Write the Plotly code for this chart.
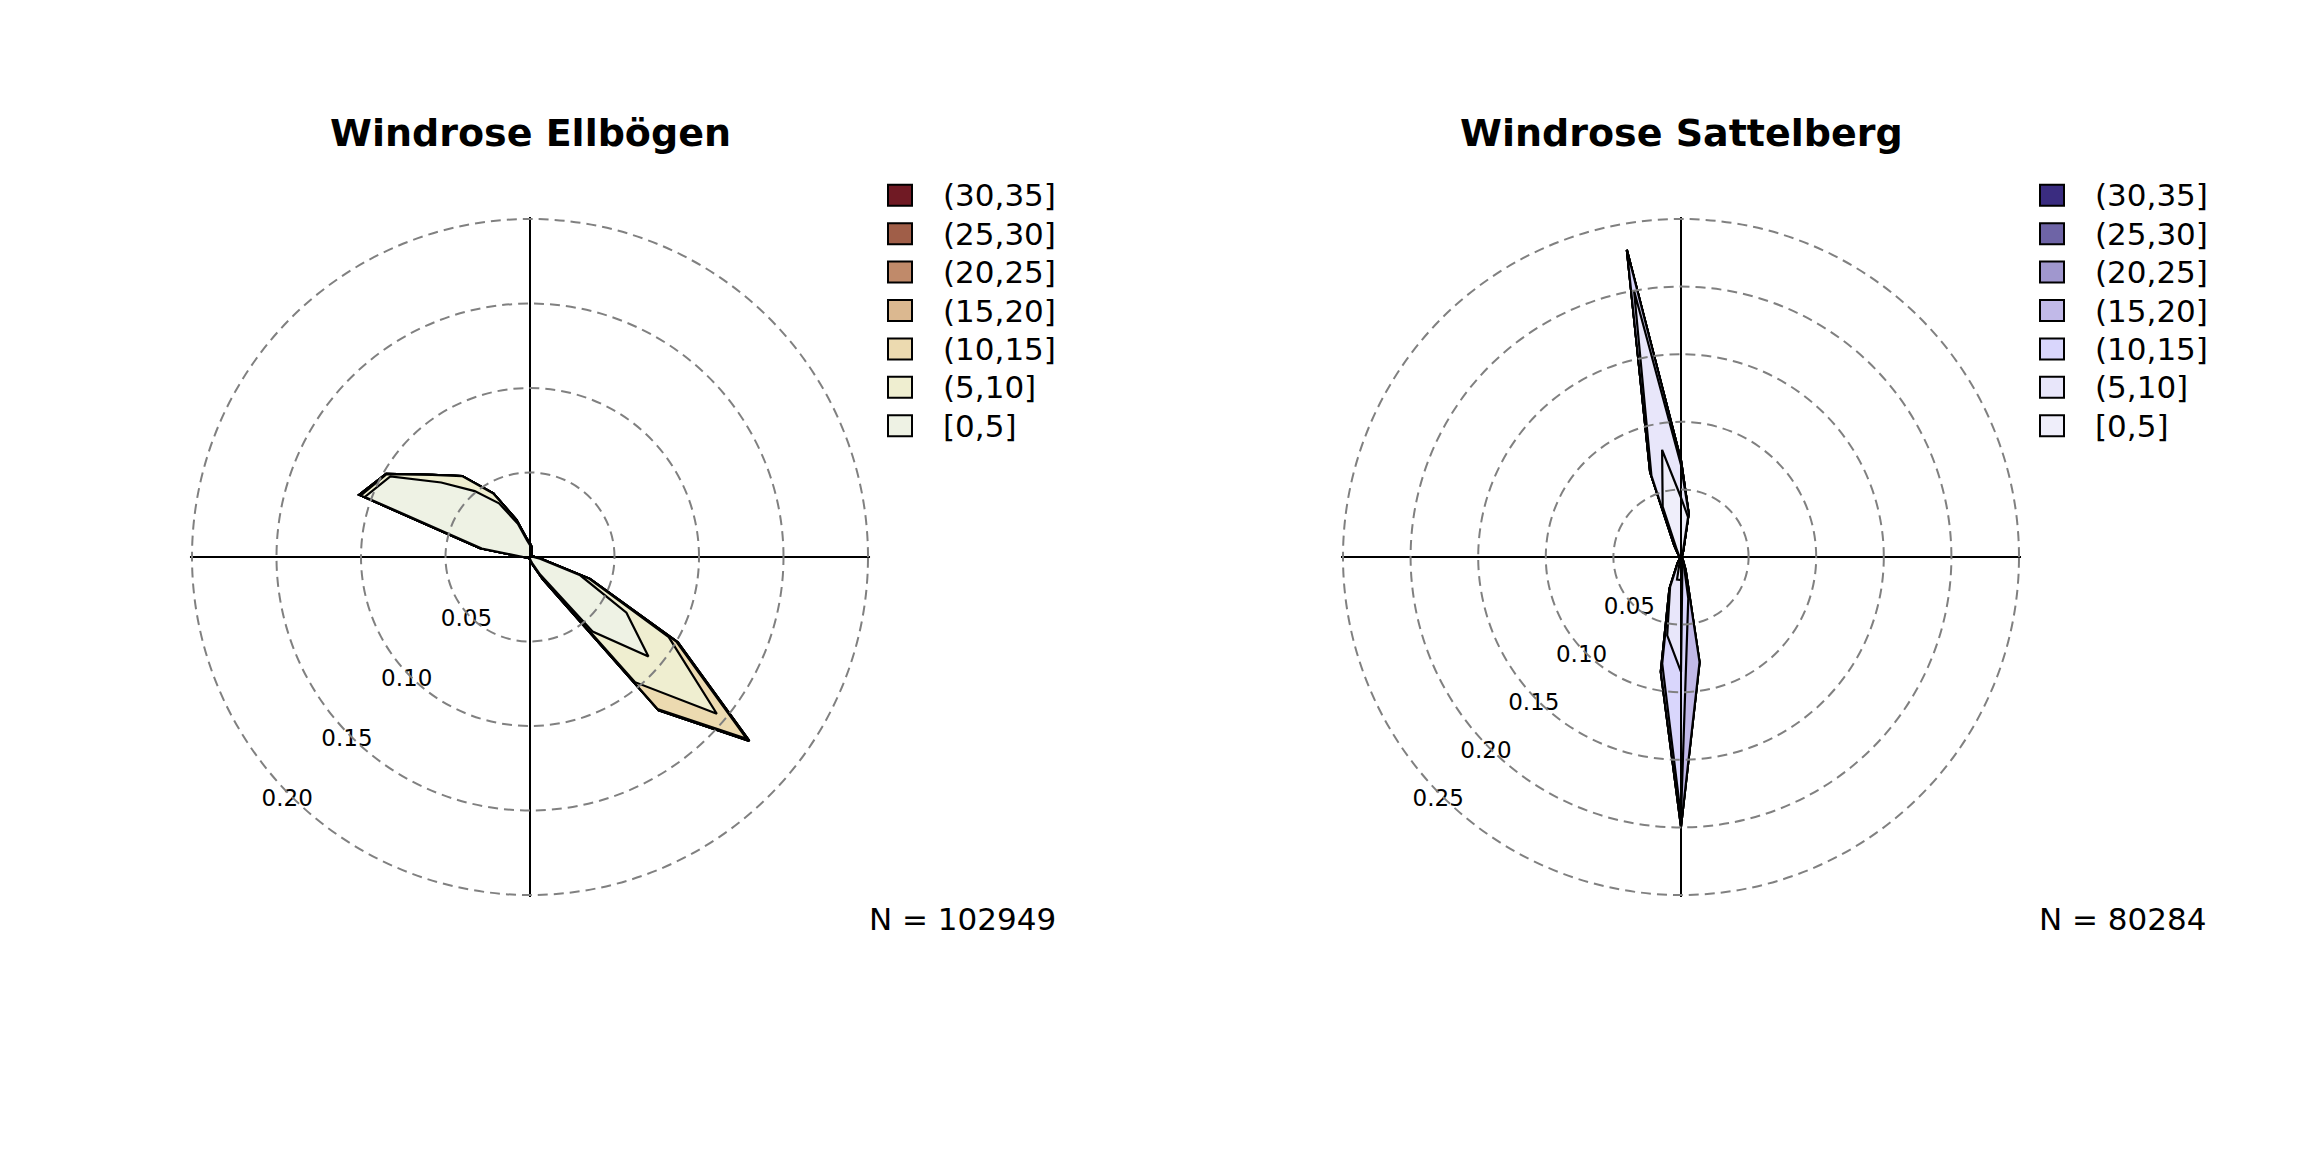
import numpy as np
import plotly.graph_objects as go

# wind directions (degrees, clockwise from north)
directions = list(range(0, 360, 10))
speed_bins = ["[0,5]", "(5,10]", "(10,15]", "(15,20]", "(20,25]", "(25,30]", "(30,35]"]

# Ellboegen: frequency per direction and speed bin (rows of 12 = 0-110, 120-230, 240-350)
ell_0_5 = [
    0.007, 0.005, 0.002, 0.001, 0.001, 0.001, 0.001, 0.001, 0.001, 0.002, 0.006, 0.0316,
    0.0659, 0.0915, 0.0576, 0.012, 0.004, 0.002, 0.001, 0.001, 0.001, 0.001, 0.001, 0.001,
    0.001, 0.001, 0.002, 0.004, 0.029, 0.104, 0.0954, 0.0686, 0.0509, 0.0367, 0.021, 0.010,
]
ell_5_10 = [
    0.001, 0.001, 0.001, 0.001, 0, 0, 0, 0, 0.001, 0.001, 0.001, 0.0054,
    0.0289, 0.0528, 0.0391, 0.002, 0.001, 0, 0, 0, 0, 0, 0, 0,
    0, 0, 0, 0, 0.001, 0.0025, 0.0026, 0.007, 0.0116, 0.0067, 0.0024, 0.001,
]
ell_10_15 = [
    0, 0, 0, 0, 0, 0, 0, 0, 0, 0, 0, 0.0008,
    0.0052, 0.0231, 0.0207, 0.001, 0, 0, 0, 0, 0, 0, 0, 0,
    0, 0, 0, 0, 0, 0.001, 0.0003, 0, 0, 0, 0, 0,
]
ell_15_20 = [
    0, 0, 0, 0, 0, 0, 0, 0, 0, 0, 0, 0,
    0.001, 0.002, 0.001, 0, 0, 0, 0, 0, 0, 0, 0, 0,
    0, 0, 0, 0, 0, 0, 0, 0, 0, 0, 0, 0,
]
ell_20_25 = [
    0, 0, 0, 0, 0, 0, 0, 0, 0, 0, 0, 0,
    0, 0, 0, 0, 0, 0, 0, 0, 0, 0, 0, 0,
    0, 0, 0, 0, 0, 0, 0, 0, 0, 0, 0, 0,
]
ell_25_30 = list(ell_20_25)
ell_30_35 = list(ell_20_25)

# Sattelberg
sat_0_5 = [
    0.044, 0.030, 0.004, 0.001, 0.001, 0.001, 0.001, 0.001, 0.001, 0.001, 0.001, 0.001,
    0.001, 0.001, 0.001, 0.001, 0.002, 0.003, 0.017, 0.017, 0.002, 0.001, 0.001, 0.001,
    0.001, 0.001, 0.001, 0.001, 0.001, 0.001, 0.001, 0.002, 0.003, 0.006, 0.0396, 0.0805,
]
sat_5_10 = [
    0.024, 0.0027, 0.001, 0.001, 0, 0, 0, 0, 0, 0, 0, 0,
    0, 0, 0, 0.001, 0.001, 0.003, 0.068, 0.0418, 0.0216, 0.003, 0, 0,
    0, 0, 0, 0, 0, 0, 0, 0, 0.001, 0.004, 0.0244, 0.1195,
]
sat_10_15 = [
    0.0034, 0, 0, 0, 0, 0, 0, 0, 0, 0, 0, 0,
    0, 0, 0, 0.001, 0.003, 0.025, 0.107, 0.0212, 0.0004, 0.001, 0, 0,
    0, 0, 0, 0, 0, 0, 0, 0, 0, 0, 0.0028, 0.0307,
]
sat_15_20 = [
    0, 0, 0, 0, 0, 0, 0, 0, 0, 0, 0, 0,
    0, 0, 0, 0, 0.004, 0.048, 0.0074, 0.0061, 0.001, 0, 0, 0,
    0, 0, 0, 0, 0, 0, 0, 0, 0, 0, 0, 0,
]
sat_20_25 = [
    0, 0, 0, 0, 0, 0, 0, 0, 0, 0, 0, 0,
    0, 0, 0, 0, 0, 0, 0, 0, 0, 0, 0, 0,
    0, 0, 0, 0, 0, 0, 0, 0, 0, 0, 0, 0,
]
sat_25_30 = list(sat_20_25)
sat_30_35 = list(sat_20_25)

ell_colors = ["#EEF2E4", "#EFEED0", "#ECDAB0", "#DBB890", "#C08A6A", "#A05E48", "#701A24"]
sat_colors = ["#EFEEFA", "#E8E6FA", "#D9D6FC", "#C1B9E8", "#A097CE", "#6E64A6", "#3A2C80"]

ell_ticks = [0.05, 0.10, 0.15, 0.20]
sat_ticks = [0.05, 0.10, 0.15, 0.20, 0.25]

W, H = 2304, 1152
FONT = "DejaVu Sans"
PAD = 1.04    # data polar slightly larger so the outer labels are not cut
GPAD = 1.006  # grid polar: keep the outer ring just inside the range so it is drawn


def add_rose(fig, bins, colors, ticks, subplot):
    cum = np.cumsum(np.array(bins), axis=0)
    theta = directions + [directions[0]]
    # biggest cumulative polygon first, smaller ones on top
    for k in reversed(range(len(speed_bins))):
        r = list(cum[k]) + [cum[k][0]]
        fig.add_trace(go.Scatterpolar(
            r=r, theta=theta, subplot=subplot, mode="lines",
            fill="toself", fillcolor=colors[k],
            line=dict(color="black", width=2.2),
            name=speed_bins[k], showlegend=False, hoverinfo="skip",
        ))
    # radial labels along the south-west direction
    off = ticks[-1] * 0.016
    fig.add_trace(go.Scatterpolar(
        r=[t + off for t in ticks], theta=[225] * len(ticks), subplot=subplot,
        mode="text", text=["%.2f" % t for t in ticks],
        textfont=dict(size=23, color="black", family=FONT),
        cliponaxis=False, showlegend=False, hoverinfo="skip",
    ))


fig = go.Figure()
add_rose(fig, [ell_0_5, ell_5_10, ell_10_15, ell_15_20, ell_20_25, ell_25_30, ell_30_35],
         ell_colors, ell_ticks, "polar")
add_rose(fig, [sat_0_5, sat_5_10, sat_10_15, sat_15_20, sat_20_25, sat_25_30, sat_30_35],
         sat_colors, sat_ticks, "polar2")


def dom(cx, cy, rad):
    return dict(x=[(cx - rad) / W, (cx + rad) / W], y=[(H - cy - rad) / H, (H - cy + rad) / H])


def data_polar(cx, cy, rad, ticks):
    return dict(
        domain=dom(cx, cy, rad * PAD), bgcolor="white",
        radialaxis=dict(range=[0, ticks[-1] * PAD], visible=False),
        angularaxis=dict(rotation=90, direction="clockwise", visible=False),
    )


def grid_polar(cx, cy, rad, ticks):
    # transparent polar on top that only carries the dashed rings and the cross
    return dict(
        domain=dom(cx, cy, rad * GPAD), bgcolor="rgba(0,0,0,0)",
        radialaxis=dict(range=[0, ticks[-1] * GPAD], tickvals=ticks, showticklabels=False,
                        ticks="", showline=False, gridcolor="#808080",
                        griddash="10px,6px", gridwidth=2),
        angularaxis=dict(rotation=90, direction="clockwise", tickvals=[0, 90, 180, 270],
                         showticklabels=False, ticks="", showline=False,
                         gridcolor="black", gridwidth=1.8),
    )


# empty traces so the overlay polars exist
for sp in ["polar3", "polar4"]:
    fig.add_trace(go.Scatterpolar(r=[None], theta=[None], subplot=sp, showlegend=False,
                                  hoverinfo="skip"))

ell_c, sat_c, cy, rad = 530, 1681, 557, 338

# hand-built legends: swatch + label per speed bin
shapes, annotations = [], []
for left, colors in [(888, ell_colors), (2040, sat_colors)]:
    for i, k in enumerate(reversed(range(len(speed_bins)))):
        yc = 195.3 + i * 38.4
        shapes.append(dict(type="rect", xref="paper", yref="paper",
                           x0=left / W, x1=(left + 24) / W,
                           y0=1 - (yc + 10.5) / H, y1=1 - (yc - 10.5) / H,
                           fillcolor=colors[k], line=dict(color="black", width=2)))
        annotations.append(dict(text=speed_bins[k], x=(left + 53) / W, y=1 - yc / H,
                                xref="paper", yref="paper", showarrow=False,
                                xanchor="left", yanchor="middle", font=dict(size=31)))

annotations += [
    dict(text="<b>Windrose Ellbögen</b>", x=ell_c / W, y=1 - 133 / H, xref="paper", yref="paper",
         showarrow=False, xanchor="center", yanchor="middle", font=dict(size=38)),
    dict(text="<b>Windrose Sattelberg</b>", x=sat_c / W, y=1 - 133 / H, xref="paper", yref="paper",
         showarrow=False, xanchor="center", yanchor="middle", font=dict(size=38)),
    dict(text="N = 102949", x=1058 / W, y=1 - 919 / H, xref="paper", yref="paper",
         showarrow=False, xanchor="right", yanchor="middle", font=dict(size=31)),
    dict(text="N = 80284", x=2209 / W, y=1 - 919 / H, xref="paper", yref="paper",
         showarrow=False, xanchor="right", yanchor="middle", font=dict(size=31)),
]

fig.update_layout(
    width=W, height=H,
    margin=dict(l=0, r=0, t=0, b=0),
    paper_bgcolor="white",
    font=dict(family=FONT, color="black"),
    showlegend=False,
    polar=data_polar(ell_c, cy, rad, ell_ticks),
    polar2=data_polar(sat_c, cy, rad, sat_ticks),
    polar3=grid_polar(ell_c, cy, rad, ell_ticks),
    polar4=grid_polar(sat_c, cy, rad, sat_ticks),
    shapes=shapes,
    annotations=annotations,
)

fig.write_html("out.html", config={"displayModeBar": False},
               post_script="document.body.style.margin='0px';")
